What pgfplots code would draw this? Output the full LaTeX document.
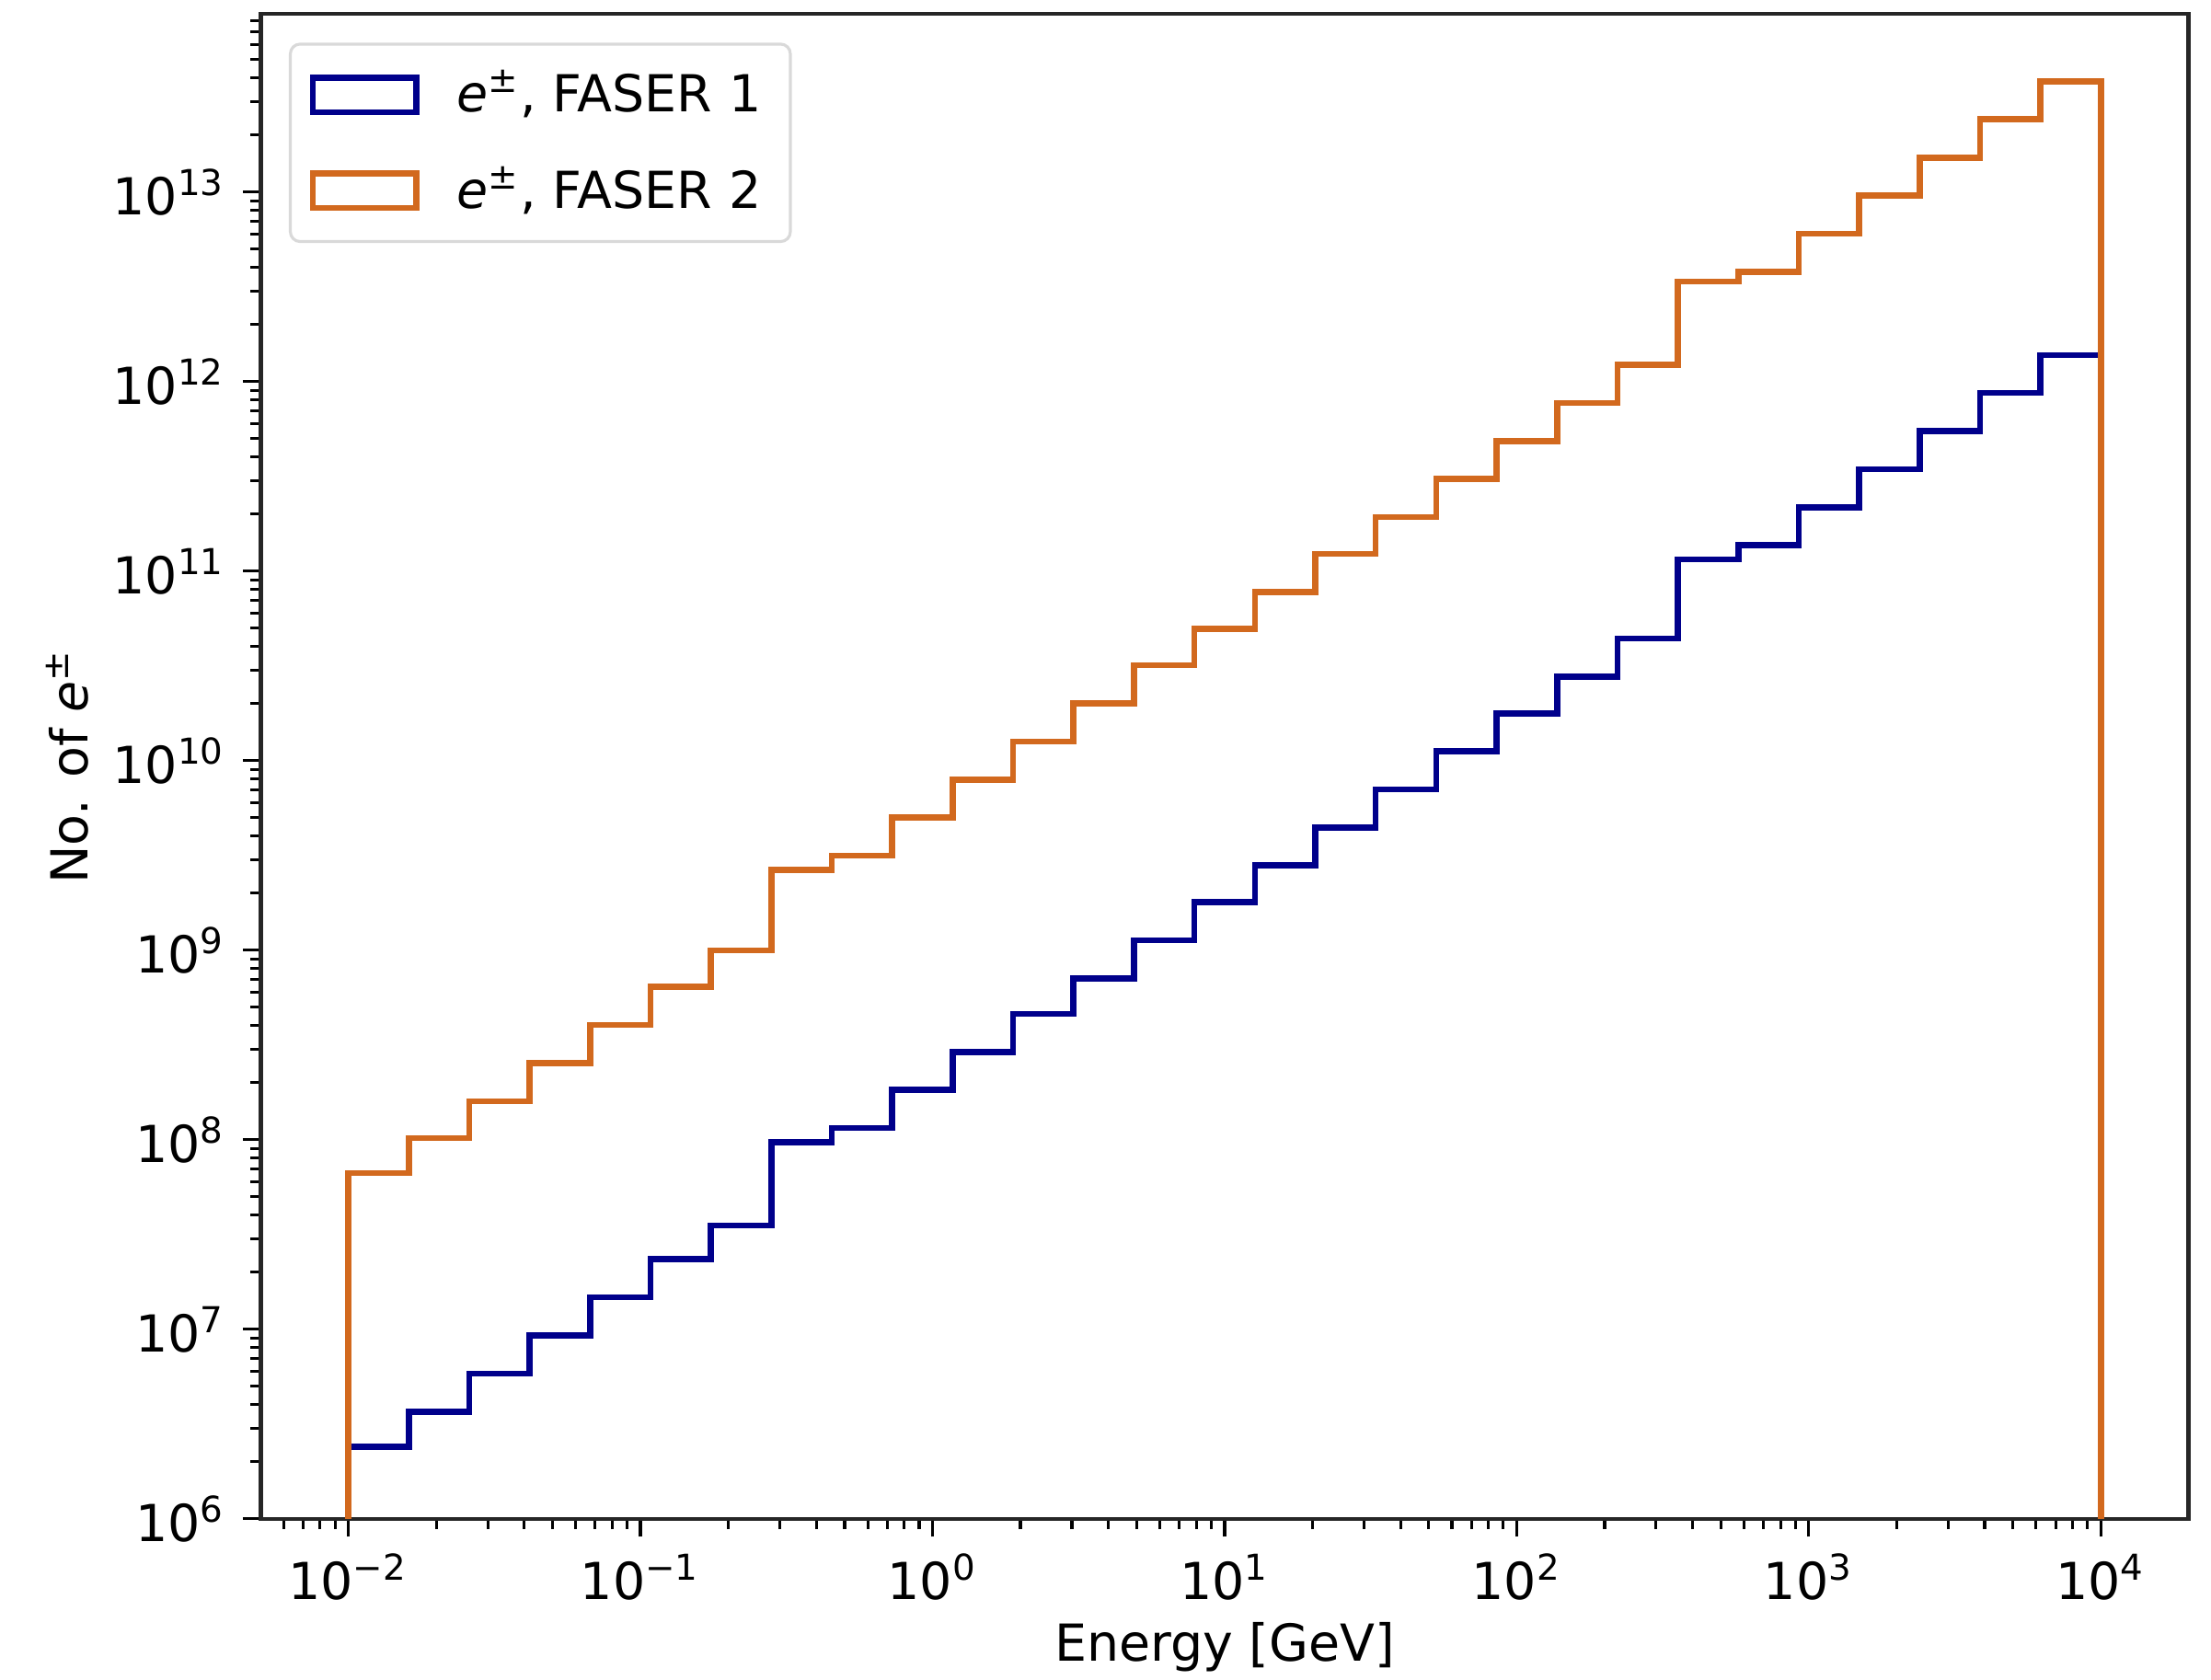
\documentclass[border=0pt]{standalone}
\usepackage{fontspec}
\setmainfont{DejaVu Sans}
\usepackage{pgfplots}
\pgfplotsset{compat=1.18}
\definecolor{fone}{RGB}{0,0,139}
\definecolor{ftwo}{RGB}{210,105,30}
\begin{document}
\begin{tikzpicture}[font=\fontsize{10.5}{12.6}\selectfont]
\begin{axis}[
  xmode=log, ymode=log,
  scale only axis, width=13.95cm, height=10.89cm,
  xmin=0.005012, xmax=19953, ymin=1e6, ymax=8.7e13,
  xtick={0.01,0.1,1,10,100,1000,10000},
  xticklabels={10\textsuperscript{−2},10\textsuperscript{−1},10\textsuperscript{0},10\textsuperscript{1},10\textsuperscript{2},10\textsuperscript{3},10\textsuperscript{4}},
  minor xtick={0.006,0.007,0.008,0.009,0.02,0.03,0.04,0.05,0.06,0.07,0.08,0.09,0.2,0.3,0.4,0.5,0.6,0.7,0.8,0.9,2,3,4,5,6,7,8,9,20,30,40,50,60,70,80,90,200,300,400,500,600,700,800,900,2000,3000,4000,5000,6000,7000,8000,9000},
  ytick={1e6,1e7,1e8,1e9,1e10,1e11,1e12,1e13},
  yticklabels={10\textsuperscript{6},10\textsuperscript{7},10\textsuperscript{8},10\textsuperscript{9},10\textsuperscript{10},10\textsuperscript{11},10\textsuperscript{12},10\textsuperscript{13}},
  minor ytick={2e6,3e6,4e6,5e6,6e6,7e6,8e6,9e6,2e7,3e7,4e7,5e7,6e7,7e7,8e7,9e7,2e8,3e8,4e8,5e8,6e8,7e8,8e8,9e8,2e9,3e9,4e9,5e9,6e9,7e9,8e9,9e9,2e10,3e10,4e10,5e10,6e10,7e10,8e10,9e10,2e11,3e11,4e11,5e11,6e11,7e11,8e11,9e11,2e12,3e12,4e12,5e12,6e12,7e12,8e12,9e12,2e13,3e13,4e13,5e13,6e13,7e13,8e13},
  tick align=outside, tick pos=left,
  major tick length=0.13cm, minor tick length=0.075cm,
  every tick/.append style={black, line width=0.6pt},
  axis line style={black!85, line width=0.8pt},
  xlabel={Energy [GeV]},
  ylabel={No. of \textit{e}\textsuperscript{±}},
  every axis x label/.style={at={(axis description cs:0.5,-0.0855)}, anchor=center, inner sep=0pt},
  every axis y label/.style={at={(axis description cs:-0.1004,0.5)}, rotate=90, anchor=center, inner sep=0pt},
  legend cell align=left,
  legend style={at={(axis description cs:0.0146,0.981)}, anchor=north west,
    draw=black!15, rounded corners=2pt, line width=0.6pt, inner xsep=4pt, inner ysep=3.4pt,
    row sep=0.2cm},
  legend image code/.code={\draw[#1, line width=1.25pt, sharp corners] (0cm,-0.125cm) rectangle (0.75cm,0.125cm); \path (0.95cm,0cm);},
]
\addplot[fone, line width=1.25pt, const plot mark left] coordinates {
(0.01,1e5) (0.01,2.40e6) (0.016103,3.68e6) (0.025929,5.85e6) (0.041753,9.29e6)
(0.067234,1.475e7) (0.108264,2.34e7) (0.174333,3.53e7) (0.280722,9.72e7)
(0.452035,1.153e8) (0.727895,1.83e8) (1.172102,2.91e8) (1.887392,4.62e8)
(3.039195,7.10e8) (4.893901,1.127e9) (7.880463,1.79e9) (12.68961,2.80e9)
(20.43360,4.44e9) (32.90345,7.06e9) (52.98317,1.12e10) (85.31678,1.78e10)
(137.3824,2.78e10) (221.2216,4.42e10) (356.2248,1.153e11) (573.6153,1.37e11)
(923.6709,2.17e11) (1487.352,3.45e11) (2395.027,5.48e11) (3856.620,8.71e11)
(6210.169,1.38e12) (10000,1.38e12) (10000,1e5)
};
\addlegendentry{\textit{e}\textsuperscript{±}, FASER 1}
\addplot[ftwo, line width=1.25pt, const plot mark left] coordinates {
(0.01,1e5) (0.01,6.67e7) (0.016103,1.02e8) (0.025929,1.60e8) (0.041753,2.54e8)
(0.067234,4.03e8) (0.108264,6.40e8) (0.174333,1.0e9) (0.280722,2.66e9)
(0.452035,3.15e9) (0.727895,5.01e9) (1.172102,7.96e9) (1.887392,1.26e10)
(3.039195,2.01e10) (4.893901,3.19e10) (7.880463,4.98e10) (12.68961,7.78e10)
(20.43360,1.236e11) (32.90345,1.93e11) (52.98317,3.06e11) (85.31678,4.87e11)
(137.3824,7.73e11) (221.2216,1.23e12) (356.2248,3.37e12) (573.6153,3.80e12)
(923.6709,6.04e12) (1487.352,9.6e12) (2395.027,1.52e13) (3856.620,2.42e13)
(6210.169,3.85e13) (10000,3.85e13) (10000,1e5)
};
\addlegendentry{\textit{e}\textsuperscript{±}, FASER 2}
\end{axis}
\path (current axis.south west) ++(-1.887cm,-1.163cm) coordinate (bbA);
\path (current axis.north east) ++(0.163cm,0.102cm) coordinate (bbB);
\path (bbA) rectangle (bbB);
\end{tikzpicture}
\end{document}
